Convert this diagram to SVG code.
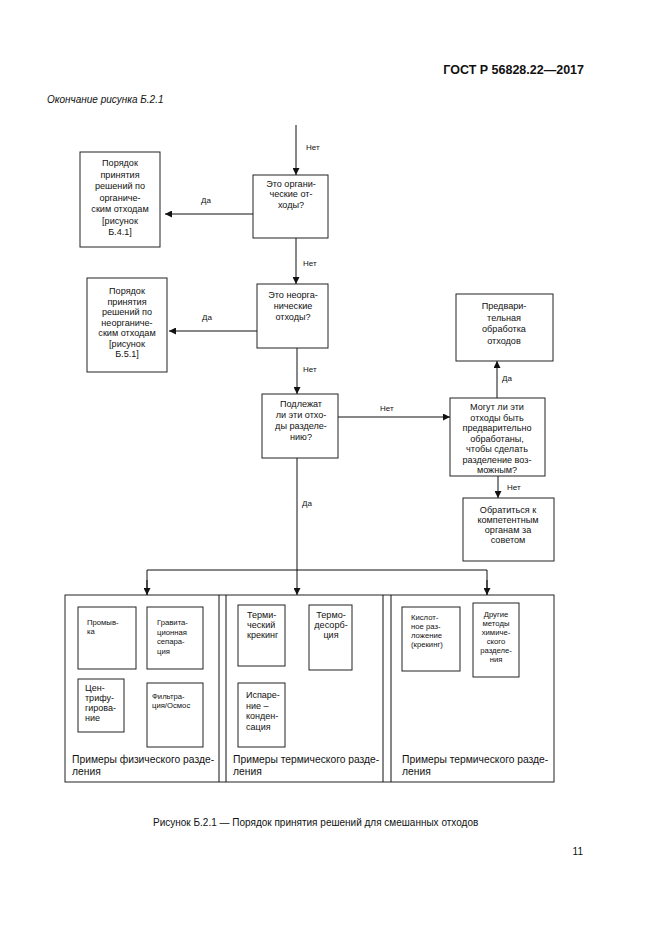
<svg xmlns="http://www.w3.org/2000/svg" width="661" height="935" viewBox="0 0 661 935">
<defs>
<marker id="ah" viewBox="0 0 10 10" refX="10" refY="5" markerWidth="7" markerHeight="7" markerUnits="userSpaceOnUse" orient="auto"><path d="M0,0 L10,5 L0,10 z" fill="#111"/></marker>
<style>
text{font-family:"Liberation Sans",Arial,sans-serif;fill:#111}
.b{fill:#fff;stroke:#222;stroke-width:1}
.t{font-size:9.1px;text-anchor:middle}
.s{font-size:7.7px}
.sc{font-size:7.7px;text-anchor:middle}
.m{font-size:9px}
.l{font-size:8px}
.p{font-size:10.3px}
.c{stroke:#111;stroke-width:1;fill:none}
</style>
</defs>
<rect width="661" height="935" fill="#fff"/>
<text x="584" y="74" font-size="12.5" font-weight="bold" text-anchor="end">ГОСТ Р 56828.22—2017</text>
<text x="47" y="103" font-size="10" font-style="italic">Окончание рисунка Б.2.1</text>

<g id="connectors">
<line class="c" x1="296" y1="125" x2="296" y2="175" marker-end="url(#ah)"/>
<line class="c" x1="253" y1="214" x2="165" y2="214" marker-end="url(#ah)"/>
<line class="c" x1="296" y1="238" x2="296" y2="284" marker-end="url(#ah)"/>
<line class="c" x1="257" y1="331" x2="169" y2="331" marker-end="url(#ah)"/>
<line class="c" x1="297" y1="348" x2="297" y2="394" marker-end="url(#ah)"/>
<line class="c" x1="338" y1="417" x2="450" y2="417" marker-end="url(#ah)"/>
<line class="c" x1="497" y1="398" x2="497" y2="361" marker-end="url(#ah)"/>
<line class="c" x1="498" y1="476" x2="498" y2="498" marker-end="url(#ah)"/>
<line class="c" x1="297" y1="458" x2="297" y2="595" marker-end="url(#ah)"/>
<polyline class="c" points="147,595 147,570 487,570 487,595"/>
<line class="c" x1="147" y1="580" x2="147" y2="595" marker-end="url(#ah)"/>
<line class="c" x1="487" y1="580" x2="487" y2="595" marker-end="url(#ah)"/>
<text class="l" x="306" y="150">Нет</text>
<text class="l" x="201" y="203">Да</text>
<text class="l" x="303" y="266">Нет</text>
<text class="l" x="202" y="320">Да</text>
<text class="l" x="303" y="372">Нет</text>
<text class="l" x="380" y="411">Нет</text>
<text class="l" x="502" y="381">Да</text>
<text class="l" x="507" y="490">Нет</text>
<text class="l" x="302" y="506">Да</text>
</g>

<g id="q1">
<rect class="b" x="253" y="175" width="75" height="63"/>
<text class="t" x="291" y="186.5">Это органи-</text>
<text class="t" x="291" y="197">ческие от-</text>
<text class="t" x="291" y="207.5">ходы?</text>
</g>
<g id="r1">
<rect class="b" x="80" y="152" width="80" height="95"/>
<text class="t" x="120" y="166">Порядок</text>
<text class="t" x="120" y="177.5">принятия</text>
<text class="t" x="120" y="189">решений по</text>
<text class="t" x="120" y="200.5">органиче-</text>
<text class="t" x="120" y="212">ским отходам</text>
<text class="t" x="120" y="223.5">[рисунок</text>
<text class="t" x="120" y="235">Б.4.1]</text>
</g>
<g id="q2">
<rect class="b" x="257" y="284" width="71" height="64"/>
<text class="t" x="293" y="298">Это неорга-</text>
<text class="t" x="293" y="309">нические</text>
<text class="t" x="293" y="320">отходы?</text>
</g>
<g id="r2">
<rect class="b" x="87" y="278" width="80" height="94"/>
<text class="t" x="127" y="294">Порядок</text>
<text class="t" x="127" y="304.5">принятия</text>
<text class="t" x="127" y="315">решений по</text>
<text class="t" x="127" y="325.5">неорганиче-</text>
<text class="t" x="127" y="336">ским отходам</text>
<text class="t" x="127" y="346.5">[рисунок</text>
<text class="t" x="127" y="357">Б.5.1]</text>
</g>
<g id="q3">
<rect class="b" x="262" y="394" width="76" height="64"/>
<text class="t" x="301" y="407">Подлежат</text>
<text class="t" x="301" y="418">ли эти отхо-</text>
<text class="t" x="301" y="429">ды разделе-</text>
<text class="t" x="301" y="440">нию?</text>
</g>
<g id="q4">
<rect class="b" x="450" y="398" width="95" height="78"/>
<text class="t" x="497" y="410">Могут ли эти</text>
<text class="t" x="497" y="420.5">отходы быть</text>
<text class="t" x="497" y="431">предварительно</text>
<text class="t" x="497" y="441.5">обработаны,</text>
<text class="t" x="497" y="452">чтобы сделать</text>
<text class="t" x="497" y="462.5">разделение воз-</text>
<text class="t" x="497" y="473">можным?</text>
</g>
<g id="pre">
<rect class="b" x="456" y="294" width="97" height="67"/>
<text class="t" x="504" y="309">Предвари-</text>
<text class="t" x="504" y="320.5">тельная</text>
<text class="t" x="504" y="332">обработка</text>
<text class="t" x="504" y="343.5">отходов</text>
</g>
<g id="adv">
<rect class="b" x="463" y="498" width="91" height="63"/>
<text class="t" x="508" y="513">Обратиться к</text>
<text class="t" x="508" y="523">компетентным</text>
<text class="t" x="508" y="533">органам за</text>
<text class="t" x="508" y="543">советом</text>
</g>

<g id="panels">
<rect class="b" x="65" y="595" width="489" height="187"/>
<line class="c" x1="219" y1="595" x2="219" y2="782"/>
<line class="c" x1="226" y1="595" x2="226" y2="782"/>
<line class="c" x1="383" y1="595" x2="383" y2="782"/>
<line class="c" x1="391" y1="595" x2="391" y2="782"/>
<text class="p" x="72" y="763">Примеры физического разде-</text>
<text class="p" x="72" y="775">ления</text>
<text class="p" x="233" y="763">Примеры термического разде-</text>
<text class="p" x="233" y="775">ления</text>
<text class="p" x="402" y="763">Примеры термического разде-</text>
<text class="p" x="402" y="775">ления</text>
</g>
<g id="wash">
<rect class="b" x="78" y="607" width="58" height="62"/>
<text class="s" x="87" y="625">Промыв-</text>
<text class="s" x="87" y="634">ка</text>
</g>
<g id="grav">
<rect class="b" x="147" y="607" width="56" height="62"/>
<text class="s" x="157" y="625">Гравита-</text>
<text class="s" x="157" y="634.5">ционная</text>
<text class="s" x="157" y="644">сепара-</text>
<text class="s" x="157" y="653.5">ция</text>
</g>
<g id="centr">
<rect class="b" x="78" y="679" width="46" height="53"/>
<text class="m" x="85" y="691">Цен-</text>
<text class="m" x="85" y="701">трифу-</text>
<text class="m" x="85" y="711">гирова-</text>
<text class="m" x="85" y="721">ние</text>
</g>
<g id="filt">
<rect class="b" x="147" y="683" width="56" height="64"/>
<text class="s" x="152" y="699">Фильтра-</text>
<text class="s" x="152" y="708">ция/Осмос</text>
</g>
<g id="crack">
<rect class="b" x="238" y="605" width="47" height="61"/>
<text class="m" x="247" y="618">Терми-</text>
<text class="m" x="247" y="628">ческий</text>
<text class="m" x="247" y="638">крекинг</text>
</g>
<g id="desorb">
<rect class="b" x="309" y="605" width="43" height="65"/>
<text class="t" x="331" y="618">Термо-</text>
<text class="t" x="331" y="628">десорб-</text>
<text class="t" x="331" y="638">ция</text>
</g>
<g id="evap">
<rect class="b" x="238" y="683" width="47" height="64"/>
<text class="m" x="246" y="698">Испаре-</text>
<text class="m" x="246" y="708.5">ние –</text>
<text class="m" x="246" y="719">конден-</text>
<text class="m" x="246" y="729.5">сация</text>
</g>
<g id="acid">
<rect class="b" x="402" y="607" width="58" height="64"/>
<text class="s" x="411" y="620">Кислот-</text>
<text class="s" x="411" y="629">ное раз-</text>
<text class="s" x="411" y="638">ложение</text>
<text class="s" x="411" y="647">(крекинг)</text>
</g>
<g id="other">
<rect class="b" x="473" y="603" width="46" height="74"/>
<text class="sc" x="496" y="617">Другие</text>
<text class="sc" x="496" y="626">методы</text>
<text class="sc" x="496" y="635">химиче-</text>
<text class="sc" x="496" y="644">ского</text>
<text class="sc" x="496" y="653">разделе-</text>
<text class="sc" x="496" y="662">ния</text>
</g>

<text x="153" y="826" font-size="10">Рисунок Б.2.1 — Порядок принятия решений для смешанных отходов</text>
<text x="583" y="855" font-size="10" text-anchor="end">11</text>
</svg>
